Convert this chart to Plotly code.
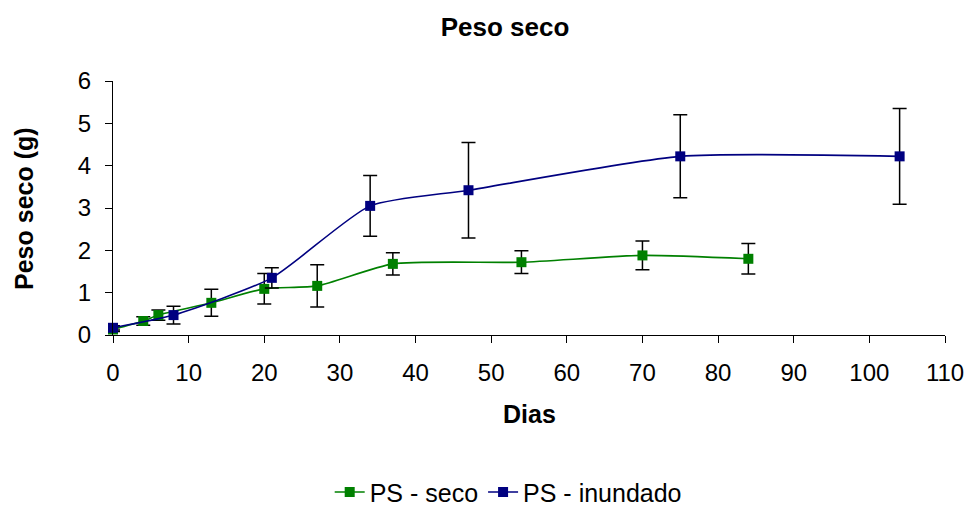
import plotly.graph_objects as go

# PS - seco
seco_x = [0, 4, 6, 13, 20, 27, 37, 54, 70, 84]
seco_y = [0.13, 0.33, 0.47, 0.76, 1.09, 1.16, 1.68, 1.72, 1.88, 1.80]
seco_err = [0.05, 0.10, 0.12, 0.32, 0.36, 0.50, 0.26, 0.27, 0.34, 0.36]

# PS - inundado
inund_x = [0, 8, 21, 34, 47, 75, 104]
inund_y = [0.17, 0.47, 1.35, 3.05, 3.42, 4.22, 4.22]
inund_err = [0.05, 0.21, 0.24, 0.72, 1.13, 0.98, 1.13]

x_ticks = [0, 10, 20, 30, 40, 50, 60, 70, 80, 90, 100, 110]
y_ticks = [0, 1, 2, 3, 4, 5, 6]

FONT = "Arial, Liberation Sans, sans-serif"
TICK_SIZE = 24
TITLE_SIZE = 25

fig = go.Figure()
fig.add_trace(go.Scatter(
    x=seco_x, y=seco_y, name="PS - seco", mode="lines+markers",
    line=dict(color="#008000", width=1.6, shape="spline", smoothing=0.6),
    marker=dict(symbol="square", size=10, color="#008000"),
    error_y=dict(type="data", array=seco_err, visible=True, color="black", thickness=1.5, width=7),
    cliponaxis=False,
))
fig.add_trace(go.Scatter(
    x=inund_x, y=inund_y, name="PS - inundado", mode="lines+markers",
    line=dict(color="#000080", width=1.6, shape="spline", smoothing=0.6),
    marker=dict(symbol="square", size=10, color="#000080"),
    error_y=dict(type="data", array=inund_err, visible=True, color="black", thickness=1.5, width=7),
    cliponaxis=False,
))

fig.update_layout(
    width=964, height=498,
    margin=dict(l=105, r=27, t=73, b=171, autoexpand=False),
    paper_bgcolor="white", plot_bgcolor="white",
    font=dict(family=FONT, size=TICK_SIZE, color="black"),
    title=dict(text="<b>Peso seco</b>", x=0.5156, xanchor="center", y=0.962, yanchor="middle",
               font=dict(family=FONT, size=26, color="black")),
    showlegend=True,
    legend=dict(orientation="h", x=0.475, xanchor="center", y=-0.619, yanchor="middle",
                font=dict(family=FONT, size=25, color="black"),
                tracegroupgap=0, bgcolor="rgba(0,0,0,0)"),
    xaxis=dict(range=[0, 110], tickvals=x_ticks, ticktext=[str(t) for t in x_ticks],
               showgrid=False, zeroline=False, showline=True, linecolor="black", linewidth=1.2,
               ticks="outside", ticklen=7, tickcolor="black", automargin=False,
               ticklabelstandoff=9,
               tickfont=dict(family=FONT, size=TICK_SIZE)),
    yaxis=dict(range=[0, 6], tickvals=y_ticks, ticktext=[str(t) for t in y_ticks],
               showgrid=False, zeroline=False, showline=True, linecolor="black", linewidth=1.2,
               ticks="outside", ticklen=7, tickcolor="black", automargin=False,
               ticklabelstandoff=9,
               tickfont=dict(family=FONT, size=TICK_SIZE)),
    annotations=[
        dict(text="<b>Dias</b>", xref="paper", yref="paper", x=0.5, y=-0.312,
             xanchor="center", yanchor="middle", showarrow=False,
             font=dict(family=FONT, size=TITLE_SIZE, color="black")),
        dict(text="<b>Peso seco (g)</b>", xref="paper", yref="paper", x=-0.107, y=0.5,
             xanchor="center", yanchor="middle", showarrow=False, textangle=-90,
             font=dict(family=FONT, size=TITLE_SIZE, color="black")),
    ],
)

fig.write_html("out.html")
